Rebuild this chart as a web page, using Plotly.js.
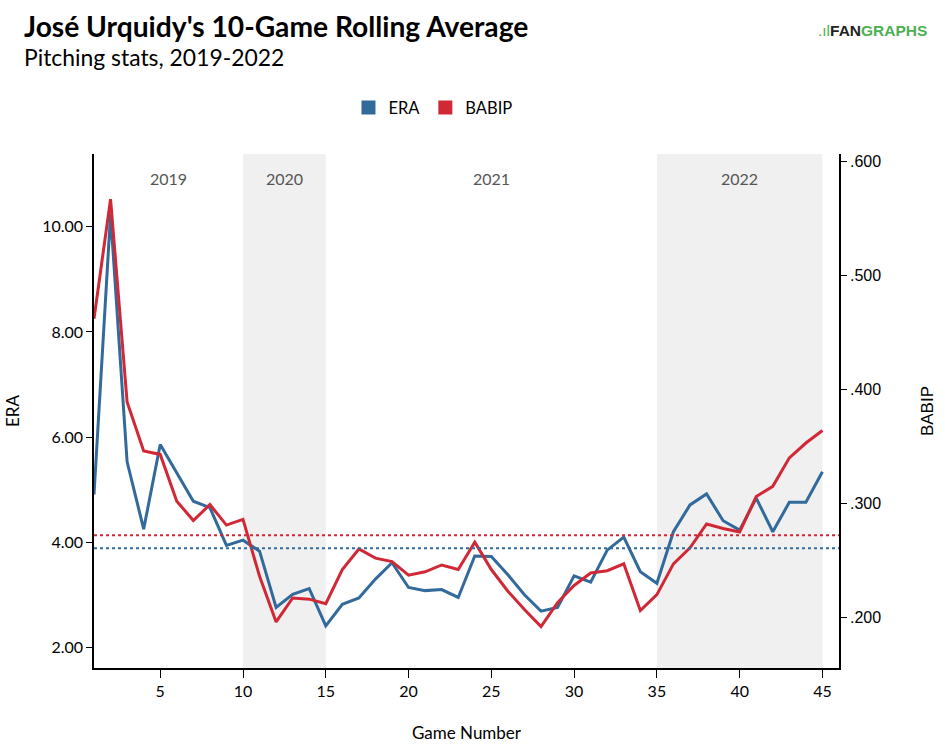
<!DOCTYPE html>
<html>
<head>
<meta charset="utf-8">
<script src="https://cdn.plot.ly/plotly-3.0.1.min.js"></script>
<style>html,body{margin:0;padding:0;background:#fff;}#chart{width:945px;height:752px;}</style>
</head>
<body>
<div id="chart"></div>
<script>
const games = [1,2,3,4,5,6,7,8,9,10,11,12,13,14,15,16,17,18,19,20,21,22,23,24,25,26,27,28,29,30,31,32,33,34,35,36,37,38,39,40,41,42,43,44,45];
const era = [4.91,10.24,5.53,4.25,5.86,5.31,4.78,4.66,3.94,4.04,
             3.83,2.76,3.01,3.12,2.41,2.82,2.94,3.30,3.61,3.14,
             3.08,3.10,2.95,3.74,3.73,3.38,3.00,2.69,2.76,3.36,
             3.24,3.85,4.10,3.44,3.22,4.20,4.71,4.92,4.41,4.23,
             4.84,4.20,4.76,4.76,5.34];
const babip = [.462,.567,.389,.346,.343,.302,.285,.299,.281,.286,
               .236,.196,.217,.216,.212,.242,.260,.252,.249,.237,
               .240,.246,.242,.266,.242,.223,.207,.192,.213,.228,
               .239,.241,.247,.206,.220,.247,.261,.282,.278,.275,
               .306,.315,.340,.353,.364];
const eraAvg = 3.886;
const babipAvg = .272;
const seasons = ["2019","2020","2021","2022"];
const seasonStart = [1,10,15,35];
const seasonEnd = [10,15,35,45];
const shadedSeasons = ["2020","2022"];
const xTicks = [5,10,15,20,25,30,35,40,45];
const eraTicks = [2,4,6,8,10];
const babipTicks = [.2,.3,.4,.5,.6];
const babipTickText = [".200",".300",".400",".500",".600"];

const BLUE = "#336a9c", RED = "#d12836";
const FONT = "Lato, 'Open Sans', sans-serif";

const traces = [
  {x: games, y: era, type: "scatter", mode: "lines", line: {color: BLUE, width: 3}, yaxis: "y", showlegend: false, hoverinfo: "skip"},
  {x: games, y: babip, type: "scatter", mode: "lines", line: {color: RED, width: 3}, yaxis: "y2", showlegend: false, hoverinfo: "skip"},
  {x: [null], y: [null], type: "scatter", mode: "markers", name: "ERA", marker: {symbol: "square", size: 14, color: BLUE}},
  {x: [null], y: [null], type: "scatter", mode: "markers", name: "BABIP", marker: {symbol: "square", size: 14, color: RED}}
];

const shapes = [];
seasons.forEach((s, i) => {
  if (shadedSeasons.includes(s)) {
    shapes.push({type: "rect", xref: "x", yref: "paper", x0: seasonStart[i], x1: seasonEnd[i], y0: 0, y1: 1,
                 fillcolor: "#f0f0f0", line: {width: 0}, layer: "below"});
  }
});
shapes.push({type: "line", xref: "paper", yref: "y2", x0: 0, x1: 1, y0: babipAvg, y1: babipAvg, line: {color: RED, width: 2, dash: "dot"}});
shapes.push({type: "line", xref: "paper", yref: "y", x0: 0, x1: 1, y0: eraAvg, y1: eraAvg, line: {color: BLUE, width: 2, dash: "dot"}});

const annotations = seasons.map((s, i) => ({
  text: s, xref: "x", yref: "paper", x: (seasonStart[i] + seasonEnd[i]) / 2, y: 0.953, yanchor: "middle",
  showarrow: false, font: {family: FONT, size: 16, color: "#555"}
}));
annotations.push({text: "<b>José Urquidy's 10-Game Rolling Average</b>", xref: "paper", yref: "paper",
  x: -0.0966, y: 1.2485, xanchor: "left", yanchor: "middle", showarrow: false,
  font: {family: FONT, size: 28.2, color: "#000"}});
annotations.push({text: "Pitching stats, 2019-2022", xref: "paper", yref: "paper",
  x: -0.0966, y: 1.188, xanchor: "left", yanchor: "middle", showarrow: false,
  font: {family: FONT, size: 22.9, color: "#000"}});
annotations.push({text: "<span style='color:#4caf50'>.ıl</span><span style='color:#222'><b>FAN</b></span><span style='color:#4caf50'><b>GRAPHS</b></span>",
  xref: "paper", yref: "paper", x: 1.0456, y: 1.241, xanchor: "center", yanchor: "middle", showarrow: false,
  font: {family: "'Liberation Sans', Arial, sans-serif", size: 15.5}});

const layout = {
  width: 945, height: 752,
  margin: {l: 94, r: 106, t: 154, b: 84},
  paper_bgcolor: "#fff", plot_bgcolor: "#fff",
  font: {family: FONT, color: "#000"},
  showlegend: true,
  legend: {orientation: "h", x: 0.455, y: 1.09, xanchor: "center", yanchor: "middle",
           font: {family: FONT, size: 16.5, color: "#000"}, itemwidth: 30, tracegroupgap: 0},
  xaxis: {range: [1, 46], tickvals: xTicks, ticks: "outside", ticklen: 8, tickcolor: "#000", tickwidth: 1,
          showline: true, linecolor: "#000", linewidth: 1.5, showgrid: false, zeroline: false,
          tickfont: {family: FONT, size: 16, color: "#000"},
          title: {text: "Game Number", font: {family: FONT, size: 17, color: "#000"}, standoff: 28}},
  yaxis: {range: [1.608, 11.386], tickvals: eraTicks, tickformat: ".2f", ticks: "outside", ticklen: 6, tickcolor: "#000",
          showline: true, linecolor: "#000", linewidth: 1.5, showgrid: false, zeroline: false,
          tickfont: {family: FONT, size: 16, color: "#000"},
          title: {text: "ERA", font: {family: FONT, size: 17, color: "#000"}, standoff: 18}},
  yaxis2: {range: [0.1556, 0.6066], overlaying: "y", side: "right", tickvals: babipTicks, ticktext: babipTickText,
          ticks: "outside", ticklen: 6, tickcolor: "#000",
          showline: true, linecolor: "#000", linewidth: 1.5, showgrid: false, zeroline: false,
          tickfont: {family: "'Liberation Sans', Arial, sans-serif", size: 16, color: "#000"},
          title: {text: "BABIP", font: {family: "'Liberation Sans', Arial, sans-serif", size: 17, color: "#000"}, standoff: 41}},
  shapes: shapes,
  annotations: annotations
};

Plotly.newPlot("chart", traces, layout, {displayModeBar: false, responsive: false});
</script>
</body>
</html>
